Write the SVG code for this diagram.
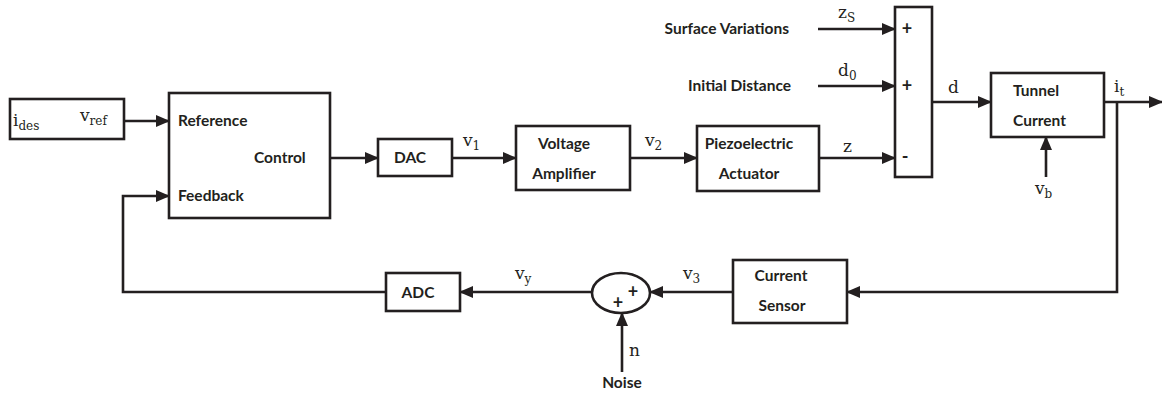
<svg xmlns="http://www.w3.org/2000/svg" width="1162" height="394" viewBox="0 0 1162 394">
<style>
.box{fill:#fff;stroke:#231f20;stroke-width:2.6}
.ln{fill:none;stroke:#231f20;stroke-width:2.6}
.lbl{font-family:Lato,"Open Sans","Liberation Sans",sans-serif;font-weight:bold;font-size:15.5px;fill:#231f20}
.m{font-family:"DejaVu Serif","Liberation Serif",serif;font-size:17px;fill:#231f20}
.s{font-size:12px}
.sign{font-family:Lato,"Liberation Sans",sans-serif;font-weight:bold;font-size:18px;fill:#231f20}
</style>
<defs>
<marker id="ah" markerUnits="userSpaceOnUse" markerWidth="14" markerHeight="12" refX="13" refY="6" orient="auto">
<path d="M0,0 L14,6 L0,12 Z" fill="#231f20"/>
</marker>
</defs>
<g id="connectors">
<line class="ln" x1="124" y1="121" x2="169" y2="121" marker-end="url(#ah)"/>
<line class="ln" x1="330" y1="158" x2="378" y2="158" marker-end="url(#ah)"/>
<line class="ln" x1="452" y1="158" x2="516" y2="158" marker-end="url(#ah)"/>
<line class="ln" x1="630" y1="158" x2="697" y2="158" marker-end="url(#ah)"/>
<line class="ln" x1="819" y1="158" x2="895" y2="158" marker-end="url(#ah)"/>
<line class="ln" x1="818" y1="29" x2="895" y2="29" marker-end="url(#ah)"/>
<line class="ln" x1="818" y1="86" x2="895" y2="86" marker-end="url(#ah)"/>
<line class="ln" x1="932" y1="102" x2="991" y2="102" marker-end="url(#ah)"/>
<line class="ln" x1="1104" y1="102" x2="1162" y2="102" marker-end="url(#ah)"/>
<line class="ln" x1="1046" y1="177" x2="1046" y2="137" marker-end="url(#ah)"/>
<polyline class="ln" points="1117,102 1117,292 847,292" marker-end="url(#ah)"/>
<line class="ln" x1="733" y1="292" x2="650" y2="292" marker-end="url(#ah)"/>
<line class="ln" x1="592" y1="292" x2="460" y2="292" marker-end="url(#ah)"/>
<line class="ln" x1="622" y1="372" x2="622" y2="313" marker-end="url(#ah)"/>
<polyline class="ln" points="386,292 123,292 123,196 169,196" marker-end="url(#ah)"/>
</g>
<g id="ides">
<rect class="box" x="10" y="99" width="114" height="40"/>
<text class="m" x="13" y="126">i<tspan class="s" dy="4">des</tspan></text>
<text class="m" x="80" y="121">v<tspan class="s" dy="4">ref</tspan></text>
</g>
<g id="control">
<rect class="box" x="169" y="93" width="161" height="125"/>
<text class="lbl" x="178" y="126">Reference</text>
<text class="lbl" x="254" y="163">Control</text>
<text class="lbl" x="178" y="201">Feedback</text>
</g>
<g id="dac">
<rect class="box" x="378" y="139" width="74" height="37"/>
<text class="lbl" x="410" y="163" text-anchor="middle">DAC</text>
</g>
<text class="m" x="463" y="146">v<tspan class="s" dy="4">1</tspan></text>
<g id="amp">
<rect class="box" x="516" y="126" width="114" height="64"/>
<text class="lbl" x="564" y="149" text-anchor="middle">Voltage</text>
<text class="lbl" x="564" y="179" text-anchor="middle">Amplifier</text>
</g>
<text class="m" x="645" y="146">v<tspan class="s" dy="4">2</tspan></text>
<g id="piezo">
<rect class="box" x="697" y="126" width="122" height="65"/>
<text class="lbl" x="749" y="149" text-anchor="middle">Piezoelectric</text>
<text class="lbl" x="749" y="179" text-anchor="middle">Actuator</text>
</g>
<text class="m" x="843" y="152">z</text>
<g id="surface">
<text class="lbl" x="789" y="34" text-anchor="end">Surface Variations</text>
<text class="m" x="838" y="18">z<tspan class="s" dy="4">S</tspan></text>
</g>
<g id="initial">
<text class="lbl" x="791" y="91" text-anchor="end">Initial Distance</text>
<text class="m" x="838" y="76">d<tspan class="s" dy="4">0</tspan></text>
</g>
<g id="sum1">
<rect class="box" x="895" y="7" width="37" height="170"/>
<text class="sign" x="907" y="35" text-anchor="middle">+</text>
<text class="sign" x="907" y="92" text-anchor="middle">+</text>
<text class="sign" x="905" y="163" text-anchor="middle">-</text>
</g>
<text class="m" x="948" y="93">d</text>
<g id="tunnel">
<rect class="box" x="991" y="73" width="113" height="64"/>
<text class="lbl" x="1013" y="96">Tunnel</text>
<text class="lbl" x="1013" y="126">Current</text>
</g>
<text class="m" x="1114" y="92">i<tspan class="s" dy="4">t</tspan></text>
<text class="m" x="1035" y="194">v<tspan class="s" dy="4">b</tspan></text>
<g id="sensor">
<rect class="box" x="733" y="260" width="114" height="63"/>
<text class="lbl" x="781" y="281" text-anchor="middle">Current</text>
<text class="lbl" x="782" y="311" text-anchor="middle">Sensor</text>
</g>
<text class="m" x="683" y="279">v<tspan class="s" dy="4">3</tspan></text>
<g id="sum2">
<ellipse class="box" cx="621" cy="293" rx="29" ry="20"/>
<text class="sign" x="633" y="298" text-anchor="middle">+</text>
<text class="sign" x="618" y="309" text-anchor="middle">+</text>
</g>
<text class="m" x="515" y="279">v<tspan class="s" dy="4">y</tspan></text>
<g id="noise">
<text class="m" x="629" y="356">n</text>
<text class="lbl" x="622" y="388" text-anchor="middle">Noise</text>
</g>
<g id="adc">
<rect class="box" x="386" y="273" width="74" height="38"/>
<text class="lbl" x="418" y="298" text-anchor="middle">ADC</text>
</g>
</svg>
